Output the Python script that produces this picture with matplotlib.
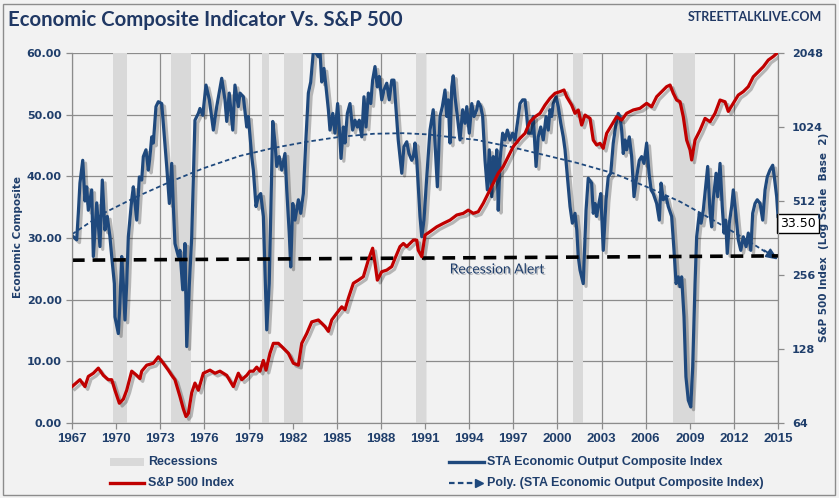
import matplotlib
matplotlib.use("Agg")
import matplotlib.pyplot as plt
import matplotlib.patheffects as pe
from matplotlib.patches import Rectangle
from matplotlib.lines import Line2D
import matplotlib.transforms as mtransforms

# STA Economic Output Composite Index
eco_years = [
    1967.09, 1967.32, 1967.43, 1967.54, 1967.73, 1967.88, 1968.00, 1968.11, 1968.34, 1968.45,
    1968.68, 1968.90, 1969.06, 1969.24, 1969.40, 1969.58, 1969.70, 1969.88, 1969.92, 1970.15,
    1970.26, 1970.38, 1970.49, 1970.60, 1970.72, 1970.83, 1971.06, 1971.17, 1971.40, 1971.58,
    1971.74, 1971.85, 1972.03, 1972.19, 1972.30, 1972.42, 1972.53, 1972.71, 1972.87, 1973.10,
    1973.28, 1973.44, 1973.62, 1973.78, 1973.89, 1974.00, 1974.23, 1974.34, 1974.53, 1974.68,
    1974.80, 1974.98, 1975.14, 1975.36, 1975.59, 1975.70, 1975.89, 1976.11, 1976.34, 1976.61,
    1976.84, 1977.18, 1977.40, 1977.52, 1977.69, 1977.93, 1978.08, 1978.31, 1978.42, 1978.65,
    1978.88, 1978.99, 1979.22, 1979.33, 1979.51, 1979.67, 1979.83, 1980.01, 1980.24, 1980.41,
    1980.65, 1980.80, 1980.92, 1981.09, 1981.26, 1981.48, 1981.60, 1981.77, 1981.87, 1982.01,
    1982.16, 1982.39, 1982.55, 1982.73, 1982.89, 1983.07, 1983.23, 1983.41, 1983.59, 1983.75,
    1983.86, 1983.98, 1984.13, 1984.27, 1984.43, 1984.54, 1984.73, 1984.88, 1985.06, 1985.17,
    1985.29, 1985.45, 1985.56, 1985.72, 1985.90, 1986.08, 1986.24, 1986.40, 1986.53, 1986.70,
    1986.85, 1986.99, 1987.15, 1987.31, 1987.44, 1987.60, 1987.76, 1987.89, 1988.06, 1988.21,
    1988.40, 1988.57, 1988.74, 1988.89, 1989.03, 1989.18, 1989.42, 1989.57, 1989.76, 1989.91,
    1990.10, 1990.21, 1990.32, 1990.44, 1990.66, 1990.78, 1990.93, 1991.12, 1991.34, 1991.56,
    1991.68, 1991.84, 1992.02, 1992.18, 1992.36, 1992.48, 1992.58, 1992.70, 1992.82, 1992.92,
    1993.04, 1993.20, 1993.38, 1993.56, 1993.72, 1993.84, 1994.01, 1994.18, 1994.33, 1994.52,
    1994.62, 1994.79, 1994.92, 1995.08, 1995.24, 1995.37, 1995.54, 1995.64, 1995.76, 1995.88,
    1995.98, 1996.10, 1996.28, 1996.44, 1996.60, 1996.78, 1996.96, 1997.12, 1997.28, 1997.46,
    1997.64, 1997.80, 1997.92, 1998.02, 1998.26, 1998.36, 1998.55, 1998.70, 1998.87, 1999.04,
    1999.23, 1999.38, 1999.50, 1999.61, 1999.72, 1999.91, 2000.06, 2000.23, 2000.40, 2000.52,
    2000.68, 2000.86, 2001.02, 2001.20, 2001.32, 2001.42, 2001.54, 2001.76, 2001.95, 2002.10,
    2002.33, 2002.44, 2002.56, 2002.67, 2002.78, 2002.95, 2003.12, 2003.31, 2003.46, 2003.63,
    2003.80, 2003.99, 2004.14, 2004.26, 2004.37, 2004.48, 2004.60, 2004.71, 2004.89, 2005.05,
    2005.21, 2005.39, 2005.57, 2005.73, 2005.89, 2006.07, 2006.23, 2006.37, 2006.52, 2006.75,
    2006.93, 2007.05, 2007.20, 2007.39, 2007.54, 2007.77, 2007.93, 2008.07, 2008.22, 2008.34,
    2008.45, 2008.61, 2008.74, 2008.90, 2009.07, 2009.20, 2009.36, 2009.47, 2009.65, 2009.77,
    2009.92, 2010.11, 2010.22, 2010.38, 2010.49, 2010.60, 2010.79, 2010.90, 2011.06, 2011.21,
    2011.33, 2011.44, 2011.55, 2011.69, 2011.85, 2011.96, 2012.13, 2012.30, 2012.47, 2012.64,
    2012.83, 2012.98, 2013.15, 2013.28, 2013.44, 2013.59, 2013.78, 2013.96, 2014.12, 2014.27,
    2014.45, 2014.64, 2014.75, 2014.91, 2015.00,
]
eco_values = [
    30.2, 29.7, 34.0, 38.9, 42.6, 36.0, 38.3, 34.5, 37.8, 27.0,
    35.7, 28.6, 39.4, 31.3, 33.5, 30.2, 27.0, 22.6, 17.2, 14.5,
    19.4, 27.0, 22.6, 16.7, 22.6, 30.2, 36.2, 38.3, 32.9, 39.9,
    39.4, 43.2, 44.3, 41.0, 43.2, 46.4, 45.4, 51.3, 52.1, 51.8,
    46.4, 41.6, 35.6, 42.1, 35.1, 29.1, 27.0, 28.0, 21.6, 29.1,
    12.4, 22.6, 30.2, 49.1, 50.2, 51.0, 49.9, 54.8, 52.4, 47.5,
    51.3, 55.9, 52.4, 48.9, 53.5, 47.5, 54.8, 51.3, 53.5, 52.9,
    48.0, 49.7, 43.2, 41.0, 35.1, 36.7, 37.2, 33.5, 15.1, 22.6,
    48.9, 45.4, 41.6, 43.2, 41.0, 43.7, 37.8, 30.8, 25.3, 35.6,
    32.9, 36.2, 34.0, 37.2, 45.4, 53.5, 55.3, 60.3, 60.0, 59.4,
    60.3, 55.3, 57.5, 54.5, 50.8, 47.5, 50.2, 47.0, 51.8, 48.0,
    42.9, 48.0, 45.4, 50.2, 51.8, 47.5, 49.1, 48.0, 49.1, 46.4,
    52.9, 48.0, 53.5, 51.8, 55.6, 57.8, 54.5, 56.2, 52.4, 54.0,
    55.1, 52.4, 55.6, 55.6, 50.8, 45.9, 40.5, 44.8, 45.6, 43.7,
    42.6, 43.2, 45.4, 42.6, 33.5, 30.2, 32.9, 39.9, 47.5, 50.8,
    45.4, 38.3, 49.7, 51.3, 54.0, 49.7, 52.4, 45.4, 54.5, 56.3,
    52.9, 49.7, 45.9, 50.8, 48.6, 51.3, 47.0, 51.8, 49.7, 50.8,
    52.1, 51.3, 49.7, 42.6, 37.8, 44.3, 36.7, 43.2, 39.9, 44.3,
    34.5, 42.6, 47.0, 45.9, 47.5, 45.9, 47.0, 45.9, 48.6, 51.8,
    52.4, 52.4, 49.7, 47.0, 47.0, 49.7, 41.6, 46.4, 48.0, 45.9,
    49.7, 47.5, 50.8, 49.7, 51.8, 52.9, 51.3, 48.6, 46.4, 44.3,
    39.9, 35.1, 32.4, 34.0, 31.3, 27.0, 24.8, 22.6, 34.5, 39.7,
    38.9, 34.0, 35.6, 33.5, 35.1, 37.2, 28.0, 36.2, 39.9, 40.5,
    45.4, 48.6, 50.2, 49.7, 47.5, 43.7, 45.9, 44.3, 46.4, 43.2,
    36.7, 39.9, 42.6, 43.2, 42.1, 45.4, 40.5, 37.8, 37.2, 35.6,
    32.9, 38.9, 36.2, 36.7, 35.1, 33.5, 28.0, 22.6, 23.7, 22.1,
    23.7, 17.2, 7.5, 3.7, 2.6, 9.1, 22.6, 30.2, 34.0, 32.4,
    34.5, 38.9, 41.6, 34.0, 31.8, 36.2, 40.5, 36.7, 42.1, 35.1,
    30.8, 32.9, 27.5, 32.4, 35.1, 37.8, 34.0, 29.7, 28.0, 30.2,
    28.6, 30.8, 28.0, 34.0, 35.6, 36.2, 35.6, 32.9, 37.8, 39.9,
    41.0, 41.8, 39.9, 36.7, 33.5,
]

# polynomial trend of the composite, as drawn on the chart
trend_years = [1967.0, 1969.13, 1971.4, 1973.66, 1975.93, 1978.4, 1980.69, 1982.96, 1985.2,
               1987.5, 1989.5, 1991.2, 1992.24, 1994.52, 1996.78, 1999.04, 2001.3, 2003.8,
               2006.07, 2008.34, 2010.6, 2012.87, 2015.0]
trend_values = [30.6, 34.0, 36.7, 39.1, 41.3, 43.3, 44.6, 45.6, 46.4,
                46.9, 47.0, 46.8, 46.5, 45.9, 44.8, 43.5, 42.2, 40.5,
                38.3, 35.9, 32.9, 29.7, 26.5]

# S&P 500 Index (right axis, log base 2)
sp_years = [
    1967.00, 1967.54, 1967.88, 1968.11, 1968.45, 1968.79, 1969.13, 1969.47, 1969.70, 1969.92,
    1970.22, 1970.49, 1970.72, 1971.06, 1971.40, 1971.62, 1971.74, 1972.08, 1972.53, 1972.87,
    1973.21, 1973.55, 1973.78, 1974.00, 1974.34, 1974.57, 1974.75, 1974.91, 1975.14, 1975.36,
    1975.59, 1975.93, 1976.38, 1976.72, 1977.06, 1977.52, 1977.97, 1978.31, 1978.54, 1978.88,
    1979.10, 1979.33, 1979.56, 1979.78, 1980.01, 1980.19, 1980.46, 1980.69, 1981.03, 1981.37,
    1981.71, 1982.05, 1982.39, 1982.62, 1982.96, 1983.30, 1983.75, 1984.20, 1984.43, 1984.66,
    1985.00, 1985.34, 1985.56, 1985.79, 1986.13, 1986.47, 1986.81, 1987.15, 1987.44, 1987.60,
    1987.76, 1988.06, 1988.40, 1988.74, 1988.96, 1989.30, 1989.53, 1989.76, 1989.98, 1990.21,
    1990.44, 1990.54, 1990.78, 1991.00, 1991.34, 1991.80, 1992.24, 1992.70, 1993.16, 1993.60,
    1993.94, 1994.28, 1994.62, 1994.96, 1995.30, 1995.64, 1995.98, 1996.32, 1996.66, 1997.00,
    1997.46, 1997.80, 1998.14, 1998.48, 1998.82, 1999.16, 1999.50, 1999.84, 2000.18, 2000.45,
    2000.63, 2000.97, 2001.20, 2001.42, 2001.65, 2001.88, 2002.22, 2002.44, 2002.67, 2002.90,
    2003.12, 2003.35, 2003.69, 2004.03, 2004.37, 2004.71, 2005.16, 2005.62, 2006.07, 2006.41,
    2006.75, 2007.09, 2007.43, 2007.66, 2007.88, 2008.11, 2008.34, 2008.56, 2008.79, 2009.02,
    2009.13, 2009.36, 2009.70, 2010.04, 2010.38, 2010.72, 2011.06, 2011.40, 2011.62, 2011.96,
    2012.30, 2012.64, 2012.98, 2013.32, 2013.66, 2014.00, 2014.34, 2014.68, 2015.00,
]
sp_values = [
    90, 96, 90, 99, 102, 107, 100, 96, 96, 87,
    77, 80, 87, 104, 100, 97, 104, 110, 112, 119,
    112, 105, 100, 96, 82, 73, 68, 70, 85, 93,
    87, 102, 105, 102, 104, 100, 90, 102, 96, 100,
    104, 104, 108, 104, 115, 105, 123, 135, 135, 129,
    123, 112, 110, 135, 148, 165, 168, 158, 151, 168,
    179, 190, 185, 206, 237, 244, 252, 295, 329, 286,
    244, 264, 268, 277, 299, 334, 344, 334, 344, 355,
    355, 323, 304, 372, 384, 402, 415, 428, 449, 456,
    470, 456, 463, 501, 550, 604, 664, 707, 776, 852,
    921, 965, 1076, 1127, 1164, 1258, 1340, 1404, 1426, 1448,
    1360, 1258, 1164, 1201, 1043, 1145, 1110, 906, 865, 879,
    839, 965, 1043, 1127, 1093, 1164, 1201, 1220, 1278, 1238,
    1360, 1426, 1494, 1517, 1404, 1318, 1297, 1127, 906, 826,
    752, 906, 994, 1110, 1076, 1164, 1318, 1297, 1185, 1278,
    1381, 1426, 1494, 1639, 1718, 1800, 1917, 1982, 2060,
]

recession_starts = [1969.81, 1973.73, 1979.94, 1981.41, 1990.39, 2001.08, 2007.88]
recession_ends = [1970.72, 1975.07, 1980.40, 1982.69, 1991.05, 2001.72, 2009.36]

alert_years = [1967, 2015]
alert_values = [26.4, 27.1]

year_ticks = list(range(1967, 2016, 3))
eco_ticks = [0, 10, 20, 30, 40, 50, 60]
sp_ticks = [64, 128, 256, 512, 1024, 2048]
last_value = 33.50

BLUE = "#1f497d"
RED = "#c00000"
TXT = "#1f3e6b"
BG = "#f2f2f2"
GRID = "#8c8c8c"
W, H = 839, 498
NARROW = "Liberation Sans"

fig = plt.figure(figsize=(W / 100, H / 100), dpi=100, facecolor=BG)
ax = fig.add_axes([72 / W, 1 - 423 / H, (778 - 72) / W, (423 - 53) / H])
ax.set_facecolor(BG)

for a, b in zip(recession_starts, recession_ends):
    ax.axvspan(a, b, color="#d9d9d9", lw=0, zorder=1)

ax.set_xlim(1967, 2015)
ax.set_ylim(0, 60)
ax.set_xticks(year_ticks)
ax.set_yticks(eco_ticks)
ax.set_yticklabels([f"{v:.2f}" for v in eco_ticks])
ax.grid(True, color=GRID, lw=0.9, zorder=0.5)
ax.set_axisbelow(True)
for s in ax.spines.values():
    s.set_color(GRID)
ax.spines["top"].set_visible(False)
ax.tick_params(axis="both", colors=GRID, length=4, width=0.9, labelcolor=TXT)
for lab in ax.get_yticklabels():
    lab.set_fontweight("bold"); lab.set_fontsize(8); lab.set_family("DejaVu Sans")
for lab in ax.get_xticklabels():
    lab.set_fontweight("bold"); lab.set_fontsize(9.5); lab.set_family(NARROW)

shadow = [pe.SimpleLineShadow(offset=(2, -2), alpha=0.25, shadow_color="black"), pe.Normal()]

ax.plot(eco_years, eco_values, color=BLUE, lw=2.3, zorder=3, path_effects=shadow,
        solid_joinstyle="round")

dash = (0, (2.5, 1.6))
ax.plot(trend_years[:-1] + [trend_years[-1] - 0.3], trend_values[:-1] + [trend_values[-1] + 0.4],
        color=BLUE, lw=1.3, ls=dash, zorder=4)
ax.annotate("", xy=(trend_years[-1], trend_values[-1]),
            xytext=(trend_years[-2] + 1.2, trend_values[-2] - 1.7),
            arrowprops=dict(arrowstyle="-|>,head_length=0.7,head_width=0.3", color=BLUE,
                            lw=1.3, shrinkA=0, shrinkB=0), zorder=4)

ax.plot(alert_years, alert_values, color="black", lw=2.6, ls=(0, (3.5, 2.2)), zorder=5)
ax.text(1995.9, 24.9, "Recession Alert", color=TXT, fontsize=10, ha="center", va="center",
        family="Lato", zorder=6,
        path_effects=[pe.SimplePatchShadow(offset=(1, -1), alpha=0.25), pe.Normal()])

trans = mtransforms.blended_transform_factory(ax.transAxes, ax.transData)
ax.text(1.003, 32.4, f"{last_value:.2f}", transform=trans, ha="left", va="center",
        fontsize=9, color="black", zorder=10, clip_on=False,
        bbox=dict(boxstyle="square,pad=0.25", fc="white", ec="black", lw=1))

ax2 = ax.twinx()
ax2.set_yscale("log", base=2)
ax2.set_ylim(64, 2048)
ax2.set_yticks(sp_ticks)
ax2.set_yticklabels([str(v) for v in sp_ticks])
ax2.minorticks_off()
for s in ax2.spines.values():
    s.set_color(GRID)
ax2.spines["top"].set_visible(False)
ax2.tick_params(axis="y", colors=GRID, length=4, width=0.9, labelcolor=TXT, pad=6)
for lab in ax2.get_yticklabels():
    lab.set_fontweight("bold"); lab.set_fontsize(8); lab.set_family("DejaVu Sans")
ax2.plot(sp_years, sp_values, color=RED, lw=2.3, zorder=3, path_effects=shadow,
         solid_joinstyle="round")

# axis titles
fig.text(18 / W, 1 - 237 / H, "Economic Composite", rotation=90, ha="center", va="center",
         color=TXT, fontsize=7.5, fontweight="bold")
fig.text(824 / W, 1 - 237 / H, "S&P 500 Index  (Log Scale  Base  2)", rotation=90,
         ha="center", va="center", color=TXT, fontsize=7.5, fontweight="bold")

# header
fig.text(8 / W, 1 - 20 / H, "Economic Composite Indicator Vs. S&P 500", fontsize=14.7,
         fontweight="bold", color="#203864", family="Lato", va="center", ha="left")
fig.text(822 / W, 1 - 17 / H, "STREETTALKLIVE.COM", fontsize=9, fontweight="bold",
         color="#203864", family="Lato", va="center", ha="right")


# legend, drawn by hand
def fy(y):
    return 1 - y / H


lkw = dict(fontsize=9, color=TXT, family=NARROW, fontweight="bold", va="center")
fig.add_artist(Rectangle((110 / W, fy(466)), 34 / W, 8 / H, transform=fig.transFigure,
                         fc="#d9d9d9", ec="none"))
fig.text(148 / W, fy(462), "Recessions", **lkw)
fig.add_artist(Line2D([110 / W, 144 / W], [fy(483)] * 2, color=RED, lw=2.4))
fig.text(148 / W, fy(483), "S&P 500 Index", **lkw)
fig.add_artist(Line2D([449 / W, 484 / W], [fy(462)] * 2, color=BLUE, lw=2.4))
fig.text(487 / W, fy(462), "STA Economic Output Composite Index", **lkw)
fig.add_artist(Line2D([449 / W, 476 / W], [fy(483)] * 2, color=BLUE, lw=1.6, ls=(0, (2.5, 1.5))))
fig.add_artist(Line2D([479 / W], [fy(483)], marker=">", color=BLUE, markersize=6, lw=0))
fig.text(487 / W, fy(483), "Poly. (STA Economic Output Composite Index)", **lkw)

fig.add_artist(Rectangle((3 / W, 3 / H), 832 / W, 491 / H, transform=fig.transFigure,
                         fc="none", ec="#8c8c8c", lw=1))

fig.savefig("out.png", dpi=100, facecolor=BG)
